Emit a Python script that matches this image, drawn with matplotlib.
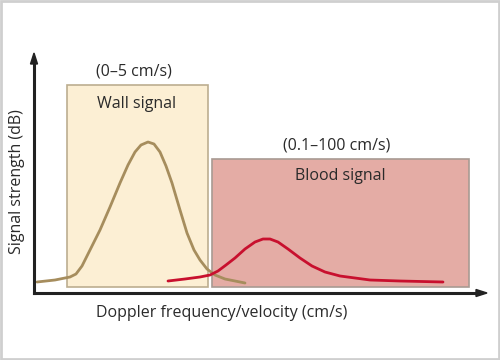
import matplotlib.pyplot as plt
from matplotlib.patches import Rectangle, FancyArrow

plt.rcParams['font.family'] = ['Open Sans', 'DejaVu Sans']

# schematic coordinates (image space, y grows downward)
wall_x = [37, 55, 70, 76, 82, 90, 100, 110, 120, 128, 135, 141, 148, 154, 160,
          166, 172, 180, 187, 194, 200, 207, 215, 225, 235, 245]
wall_y = [282, 280, 277, 274, 266, 250, 230, 207, 183, 165, 152, 145, 142, 144, 152,
          166, 183, 210, 233, 250, 260, 269, 275, 279, 281, 283]

blood_x = [168, 185, 200, 210, 218, 226, 235, 245, 255, 263, 270, 278, 288, 300,
           312, 325, 340, 355, 370, 400, 443]
blood_y = [281, 279, 277, 275, 271, 265, 258, 249, 242, 239, 239, 242, 249, 258,
           266, 272, 276, 278, 280, 281, 282]

wall_label = "Wall signal"
wall_range = "(0\u20135 cm/s)"
blood_label = "Blood signal"
blood_range = "(0.1\u2013100 cm/s)"
xlabel = "Doppler frequency/velocity (cm/s)"
ylabel = "Signal strength (dB)"

fig = plt.figure(figsize=(5, 3.6), dpi=100)
fig.patch.set_facecolor('white')
ax = fig.add_axes([0, 0, 1, 1])
ax.set_xlim(0, 500)
ax.set_ylim(360, 0)
ax.axis('off')

# outer frame
ax.add_patch(Rectangle((1, 1), 498, 358, fill=False, edgecolor='#cfcfcf', lw=2))

# signal regions
ax.add_patch(Rectangle((67, 85), 141, 202, facecolor='#fcefd4', edgecolor='#bcae90', lw=1.2))
ax.add_patch(Rectangle((212, 159), 257, 128, facecolor='#e4aca5', edgecolor='#a89a92', lw=1.2))

# curves
ax.plot(wall_x, wall_y, color='#a68d5d', lw=2, solid_capstyle='round', solid_joinstyle='round')
ax.plot(blood_x, blood_y, color='#c8102e', lw=2, solid_capstyle='round', solid_joinstyle='round')

# axes with arrows
ax.plot([34, 34], [293, 62], color='#222222', lw=2.2)
ax.plot([34, 478], [293, 293], color='#222222', lw=2.2)
ax.add_patch(FancyArrow(34, 64, 0, -11, width=0, head_width=7, head_length=11,
                        length_includes_head=True, color='#222222'))
ax.add_patch(FancyArrow(476, 293, 11, 0, width=0, head_width=7, head_length=11,
                        length_includes_head=True, color='#222222'))

txt = dict(color='#2a2a2a', fontsize=11.5, ha='center', va='center')
ax.text(134, 71, wall_range, **txt)
ax.text(137, 104, wall_label, **txt)
ax.text(337, 145, blood_range, **txt)
ax.text(340, 176, blood_label, **txt)
ax.text(222, 313, xlabel, **txt)
ax.text(17, 182, ylabel, rotation=90, **txt)

fig.savefig('out.png', dpi=100)
